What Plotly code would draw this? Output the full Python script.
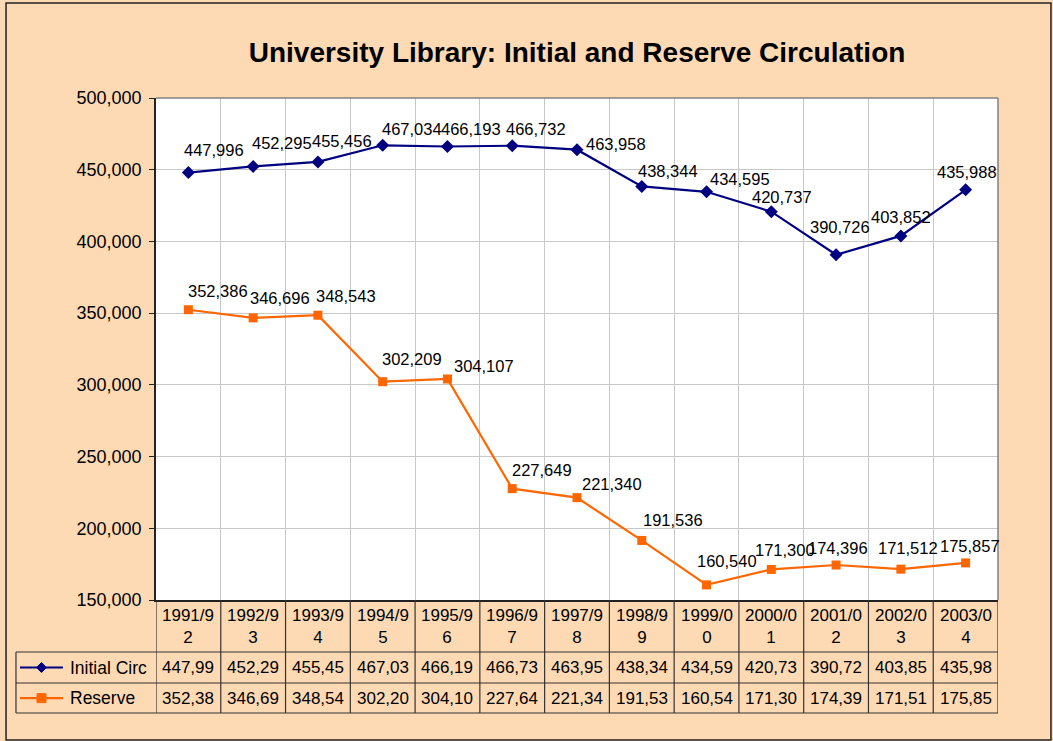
"""University library circulation - line chart with Excel-style data table."""
import plotly.graph_objects as go

categories = ["1991/92", "1992/93", "1993/94", "1994/95", "1995/96", "1996/97", "1997/98",
              "1998/99", "1999/00", "2000/01", "2001/02", "2002/03", "2003/04"]
initial_circ = [447996, 452295, 455456, 467034, 466193, 466732, 463958,
                438344, 434595, 420737, 390726, 403852, 435988]
reserve = [352386, 346696, 348543, 302209, 304107, 227649, 221340,
           191536, 160540, 171300, 174396, 171512, 175857]
series_names = ["Initial Circ", "Reserve"]

# label offsets in pixels (dx, dy up), mimics Excel's auto placement
initial_shift = [(-4, 23), (-1, 23), (-6, 21), (-1, 16), (-6, 17), (-6, 17), (9, 6),
                 (-4, 15), (3, 13), (-19, 15), (-26, 28), (-30, 19), (-29, 18)]
reserve_shift = [(0, 19), (-3, 20), (-2, 19), (-1, 23), (7, 13), (0, 19), (5, 14),
                 (1, 20), (-10, 24), (-16, 19), (-28, 17), (-23, 21), (-26, 17)]

FONT = "Arial, 'Liberation Sans', sans-serif"
NAVY = '#000080'
ORANGE = '#FF6600'
PEACH = '#FDDAB4'
LINE = '#333333'

x = list(range(len(categories)))
fig = go.Figure()
fig.add_trace(go.Scatter(x=x, y=initial_circ, mode='lines+markers', name=series_names[0],
    line=dict(color=NAVY, width=2.2), marker=dict(symbol='diamond', size=10, color=NAVY)))
fig.add_trace(go.Scatter(x=x, y=reserve, mode='lines+markers', name=series_names[1],
    line=dict(color=ORANGE, width=2.2), marker=dict(symbol='square', size=9, color=ORANGE)))

ann = []
for vals, shifts in ((initial_circ, initial_shift), (reserve, reserve_shift)):
    for i, (v, (dx, dy)) in enumerate(zip(vals, shifts)):
        ann.append(dict(x=i, y=v, xref='x', yref='y', text=f"{v:,}", showarrow=False,
            xanchor='left', yanchor='middle', xshift=dx - 2, yshift=dy,
            font=dict(size=16.5, color='black', family=FONT)))

# data table below the plot (paper y: 0 = plot bottom)
hdr_y, r1_y, r2_y = -0.052, -0.1345, -0.1955
line1, line2, line3 = -0.1036, -0.1653, -0.2251
legend_left = -0.1663
for i, c in enumerate(categories):
    ann.append(dict(x=i, y=hdr_y, xref='x', yref='paper', text=c[:6] + "<br>" + c[6:],
        showarrow=False, xanchor='center', yanchor='middle',
        font=dict(size=17, color='black', family=FONT)))
    for vals, yy in ((initial_circ, r1_y), (reserve, r2_y)):
        ann.append(dict(x=i, y=yy, xref='x', yref='paper', text=f"{vals[i]:,}"[:6],
            showarrow=False, xanchor='center', yanchor='middle',
            font=dict(size=17, color='black', family=FONT)))
for name, yy in zip(series_names, (r1_y, r2_y)):
    ann.append(dict(x=-0.1045, y=yy, xref='paper', yref='paper', text=name, showarrow=False,
        xanchor='left', yanchor='middle', font=dict(size=17.5, color='black', family=FONT)))

shapes = [
    # outer chart border
    dict(type='rect', xref='paper', yref='paper', x0=-0.1781, x1=1.0629, y0=-0.2789, y1=1.1892,
         line=dict(color='#222222', width=1.5), layer='above'),
    # plot area border (top / right)
    dict(type='line', xref='paper', yref='paper', x0=0, x1=1, y0=1, y1=1,
         line=dict(color='#808080', width=1.5)),
    dict(type='line', xref='paper', yref='paper', x0=1, x1=1, y0=0, y1=1,
         line=dict(color='#808080', width=1.5)),
]
for i in range(len(categories) + 1):
    shapes.append(dict(type='line', xref='x', yref='paper', x0=i - 0.5, x1=i - 0.5,
                       y0=0, y1=line3, line=dict(color=LINE, width=1.2)))
for yy in (line1, line2, line3):
    shapes.append(dict(type='line', xref='paper', yref='paper', x0=legend_left, x1=1,
                       y0=yy, y1=yy, line=dict(color=LINE, width=1.2)))
shapes.append(dict(type='line', xref='paper', yref='paper', x0=legend_left, x1=legend_left,
                   y0=line1, y1=line3, line=dict(color=LINE, width=1.2)))

# legend keys
key_x = -0.136
for color, yy, sym in ((NAVY, r1_y, 'diamond'), (ORANGE, r2_y, 'square')):
    shapes.append(dict(type='line', xref='paper', yref='paper', x0=-0.1615, x1=-0.1105,
                       y0=yy, y1=yy, line=dict(color=color, width=2.2)))
    path = "M0,5 L5,0 L0,-5 L-5,0 Z" if sym == 'diamond' else "M-4.5,-4.5 L4.5,-4.5 L4.5,4.5 L-4.5,4.5 Z"
    shapes.append(dict(type='path', xref='paper', yref='paper', xsizemode='pixel',
                       ysizemode='pixel', xanchor=key_x, yanchor=yy, path=path,
                       fillcolor=color, line=dict(color=color, width=1)))

fig.update_layout(
    title=dict(text="<b>University Library: Initial and Reserve Circulation</b>",
               x=0.548, xanchor='center', y=1 - 52 / 741, yanchor='middle', yref='container',
               font=dict(size=28, color='black', family=FONT)),
    width=1053, height=741, showlegend=False,
    paper_bgcolor=PEACH, plot_bgcolor='white', font=dict(family=FONT, color='black'),
    margin=dict(l=156, r=55, t=98, b=141),
    xaxis=dict(range=[-0.5, len(categories) - 0.5], tickvals=[i + 0.5 for i in range(len(categories) - 1)],
               showticklabels=False, ticks='', showgrid=True, gridcolor='#C8C8C8', gridwidth=1,
               showline=True, linecolor='#222222', linewidth=1.5, zeroline=False),
    yaxis=dict(range=[150000, 500000], dtick=50000, tickformat=',', showgrid=True,
               gridcolor='#C8C8C8', gridwidth=1, showline=True, linecolor='#222222', linewidth=1.5,
               ticks='outside', ticklen=5, tickcolor='#222222', zeroline=False,
               ticklabelstandoff=4, tickfont=dict(size=18, color='black', family=FONT)),
    annotations=ann, shapes=shapes,
)

fig.write_html("out.html", config={'displayModeBar': False},
               post_script="document.body.style.margin='0';")
